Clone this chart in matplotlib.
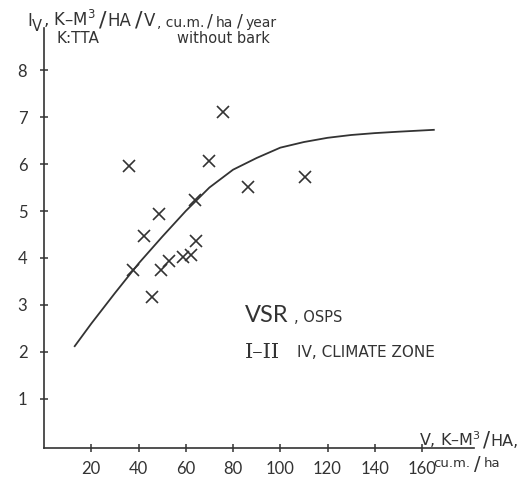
import numpy as np
import matplotlib
matplotlib.use("Agg")
import matplotlib.pyplot as plt

# measured stands: growing stock V (cu.m./ha) and increment Iv (cu.m./ha/year)
stock_v = [75.8, 36.0, 69.7, 110.6, 86.3, 63.8, 48.5, 42.4, 64.5, 37.7, 49.4, 52.8, 58.9, 62.1, 45.5]
incr_iv = [7.10, 5.95, 6.06, 5.72, 5.51, 5.24, 4.94, 4.46, 4.36, 3.75, 3.75, 3.93, 4.01, 4.07, 3.16]

# fitted curve
curve_v = [13, 20, 30, 40, 50, 60, 70, 80, 90, 100, 110, 120, 130, 140, 150, 165]
curve_iv = [2.12, 2.60, 3.25, 3.88, 4.45, 5.00, 5.50, 5.88, 6.13, 6.35, 6.47, 6.56, 6.62, 6.66, 6.69, 6.73]

x_ticks = [20, 40, 60, 80, 100, 120, 140, 160]
y_ticks = [1, 2, 3, 4, 5, 6, 7, 8]

ink = "#333333"
W, H = 522, 479
plt.rcParams["font.family"] = ["Lato", "DejaVu Sans"]
cap_font = "DejaVu Sans"


def px(x, y):
    # pixel position (from top-left) to figure fraction
    return x / W, 1 - y / H


fig = plt.figure(figsize=(W / 100, H / 100), dpi=100)
ax = fig.add_axes([44 / W, 31 / H, 430 / W, 420 / H])
ax.set_xlim(0, 182)
ax.set_ylim(-0.05, 8.9)

ax.plot(curve_v, curve_iv, color=ink, lw=1.3)
ax.plot(stock_v, incr_iv, "x", color=ink, ms=9, mew=1.2)

for s in ["top", "right"]:
    ax.spines[s].set_visible(False)
for s in ["left", "bottom"]:
    ax.spines[s].set_color(ink)
    ax.spines[s].set_linewidth(1.2)

ax.set_xticks(x_ticks)
ax.set_yticks(y_ticks)
ax.tick_params(direction="inout", length=6, width=1.1, color=ink,
               labelcolor=ink, labelsize=12)
ax.tick_params(axis="x", pad=6)
ax.tick_params(axis="y", pad=9)

renderer = fig.canvas.get_renderer()


def row(x, y, parts, family=cap_font):
    # lay text pieces side by side on one baseline; (text, size, dy, gap)
    for s, size, dy, gap in parts:
        t = fig.text(*px(x + gap, y + dy), s, fontsize=size, color=ink,
                     family=family)
        x = t.get_window_extent(renderer).x1


# y-axis caption
row(27, 26, [("I", 12, 0, 0), ("V", 10.5, 5, 0), (", K–M$^{3}$", 12, 0, 1),
             ("/", 16, 1, 3), ("HA", 12, 0, 1), ("/", 16, 1, 4), ("V", 12, 0, 1),
             (", cu.m.", 10, 1, 2), ("/", 12.5, 1, 3), ("ha", 10, 1, 3),
             ("/", 12.5, 1, 3), ("year", 10, 1, 3)])
fig.text(*px(177, 43), "without bark", fontsize=10.5, color=ink, family=cap_font)
fig.text(*px(57, 43), "K:TTA", fontsize=11, color=ink, family=cap_font)

# x-axis caption
row(419, 446, [("V, K–M$^{3}$", 11.5, 0, 0), ("/", 15, 1, 2), ("HA,", 11.5, 0, 1)])
row(433, 467, [("cu.m.", 9.5, 0, 0), ("/", 14, 3, 4), ("ha", 9.5, 0, 3)])

# legend text
fig.text(*px(245, 322), "VSR", fontsize=17, color=ink, family="Lato")
fig.text(*px(294, 322), ", OSPS", fontsize=10.5, color=ink, family=cap_font)
fig.text(*px(245, 358), "I–II", fontsize=15, color=ink, family="DejaVu Serif")
fig.text(*px(297, 357), "IV, CLIMATE ZONE", fontsize=11, color=ink, family=cap_font)

fig.savefig("out.png", dpi=100)
